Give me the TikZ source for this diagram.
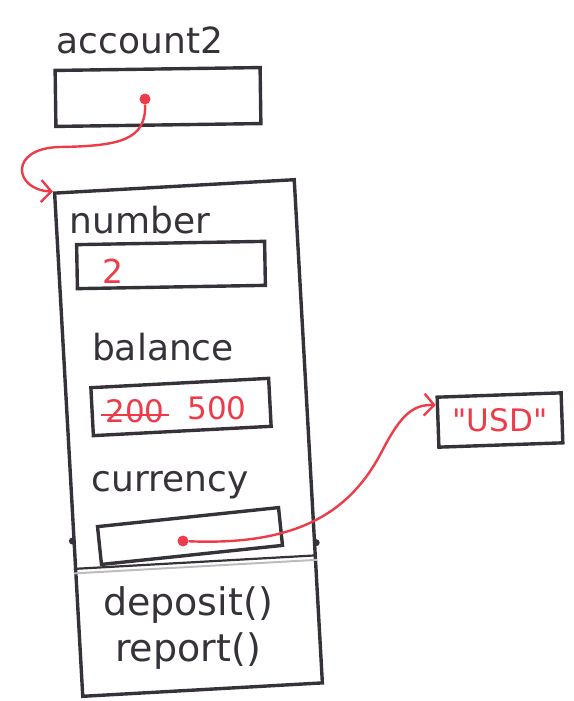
\documentclass[tikz,border=0pt]{standalone}
\usepackage{fontspec}
\setmainfont{DejaVu Sans}
\usetikzlibrary{arrows.meta,calc}
\definecolor{ink}{HTML}{37323A}
\definecolor{pen}{HTML}{EE3B4A}
\definecolor{rule}{HTML}{BDBDBD}
\begin{document}
\begin{tikzpicture}[x=1pt,y=-1pt,
  box/.style={draw=ink,line width=3.4pt,inner sep=0pt},
  lbl/.style={text=ink,font=\fontsize{36}{40}\selectfont,inner sep=0pt},
  val/.style={text=pen,font=\fontsize{31}{34}\selectfont,inner sep=0pt},
  ref/.style={draw=pen,line width=2.4pt},
  tip/.style={-{Straight Barb[length=10pt,width=22pt,line width=2.4pt]}},
  pdot/.style={circle,fill=pen,inner sep=0pt,minimum size=11pt},
  idot/.style={circle,fill=ink,inner sep=0pt,minimum size=7pt}
]
\useasboundingbox (0,0) rectangle (573,701);
% variable
\node[lbl] (name) at (140,40) {account2};
\node[box,minimum width=205pt,minimum height=56pt,rotate=0.8] (var) at (158,97) {};
\node[pdot] (d1) at (145,99) {};
% object
\node[box,minimum width=240pt,minimum height=504pt,rotate=3.2] (obj) at (188.5,438) {};
\node[lbl] (fnum) at (140,220) {number};
\node[box,minimum width=188pt,minimum height=44pt,rotate=1] (vnum) at (171,265) {};
\node[val,font=\fontsize{33}{36}\selectfont] (n2) at (113,271) {2};
\node[lbl] (fbal) at (163,347) {balance};
\node[box,minimum width=178pt,minimum height=48pt,rotate=3] (vbal) at (181,407) {};
\node[val] (old) at (135,411) {200};
\draw[ref] ($(old.west)+(-4,4)$) -- ($(old.east)+(4,4)$);
\node[val] (new) at (217,408) {500};
\node[lbl] (fcur) at (170,485) {currency};
\node[box,minimum width=182pt,minimum height=38pt,rotate=6] (vcur) at (190,536) {};
\node[pdot] (d2) at (183,541) {};
% separator
\coordinate (sl) at ($(obj.north west)!0.745!(obj.south west)$);
\coordinate (sr) at ($(obj.north east)!0.745!(obj.south east)$);
\draw[ink,line width=2.2pt] (sl) -- (sr);
\draw[rule,line width=2pt] ([yshift=-4.5pt]sl) -- ([yshift=-4.5pt]sr);
\node[lbl,font=\fontsize{38}{42}\selectfont] (m1) at (188,605) {deposit()};
\node[lbl,font=\fontsize{38}{42}\selectfont] (m2) at (188,651) {report()};
\node[idot] (k1) at ($(obj.north west)!0.69!(obj.south west)$) {};
\node[idot] (k2) at ($(obj.north east)!0.72!(obj.south east)$) {};
% string object
\node[box,minimum width=124pt,minimum height=50pt,rotate=2] (usd) at (500,420) {};
\node[val,font=\fontsize{31}{34}\selectfont] (sv) at (usd) {\textquotedbl USD\textquotedbl};
% references
\draw[ref,tip] (d1) .. controls (146,140) and (120,146) .. (60,147)
   .. controls (8,148) and (14,190) .. (obj.north west);
\draw[ref,tip] (d2) .. controls (300,546) and (350,510) .. (380,455)
   .. controls (398,420) and (410,404) .. (usd.165);
\end{tikzpicture}
\end{document}
